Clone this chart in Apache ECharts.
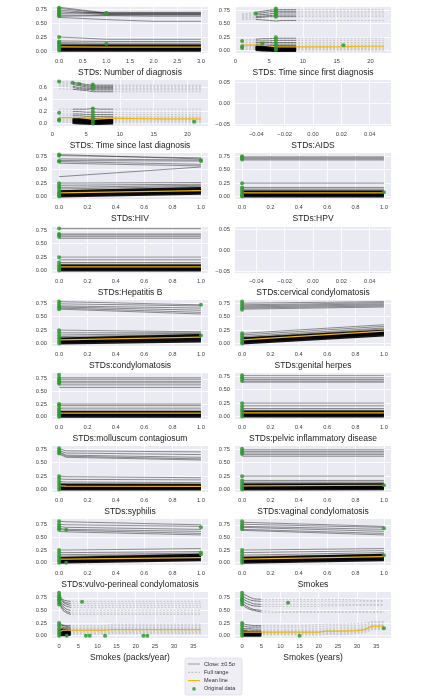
<!DOCTYPE html>
<html>
<head>
<meta charset="utf-8">
<script src="https://cdn.jsdelivr.net/npm/echarts@6/dist/echarts.min.js"></script>
<style>
  html, body { margin: 0; padding: 0; background: #fff; }
  #chart { width: 428px; height: 698px; }
</style>
</head>
<body>
<div id="chart"></div>
<script>
// panel titles (x labels), row by row
const featureNames = [
  'STDs: Number of diagnosis', 'STDs: Time since first diagnosis',
  'STDs: Time since last diagnosis', 'STDs:AIDS',
  'STDs:HIV', 'STDs:HPV',
  'STDs:Hepatitis B', 'STDs:cervical condylomatosis',
  'STDs:condylomatosis', 'STDs:genital herpes',
  'STDs:molluscum contagiosum', 'STDs:pelvic inflammatory disease',
  'STDs:syphilis', 'STDs:vaginal condylomatosis',
  'STDs:vulvo-perineal condylomatosis', 'Smokes',
  'Smokes (packs/year)', 'Smokes (years)'
]

const binaryX = [0, 1]

// STDs: Number of diagnosis
const diagX = [0, 1, 2, 3]
const diagUpper = [
  [0.78, 0.68, 0.68, 0.68], [0.76, 0.67, 0.67, 0.67], [0.73, 0.66, 0.66, 0.66],
  [0.70, 0.65, 0.65, 0.65], [0.67, 0.69, 0.69, 0.69], [0.64, 0.64, 0.64, 0.64],
  [0.62, 0.63, 0.62, 0.62], [0.60, 0.56, 0.53, 0.53]
]
const diagLower = [
  [0.25, 0.21, 0.21, 0.21], [0.18, 0.17, 0.17, 0.17], [0.15, 0.14, 0.14, 0.14],
  [0.13, 0.12, 0.12, 0.12], [0.11, 0.10, 0.10, 0.10]
]
const diagBand = [[0.09, 0.09, 0.09, 0.09], [0.065, 0.065, 0.065, 0.065], [0.04, 0.04, 0.04, 0.04], [0.015, 0.015, 0.015, 0.015]]
const diagMean = [0.075, 0.07, 0.07, 0.07]
const diagDots = [[0, 0.77], [0, 0.75], [0, 0.73], [0, 0.70], [0, 0.68], [0, 0.66], [0, 0.64], [0, 0.62],
  [0, 0.25], [0, 0.17], [0, 0.15], [0, 0.13], [0, 0.10], [0, 0.07], [0, 0.04], [0, 0.01],
  [1, 0.68], [1, 0.67], [1, 0.66], [1, 0.13]]

// STDs: Time since first diagnosis
const firstX = [1, 3, 4, 5, 6, 7, 9, 12, 16, 19, 22]
const firstUpper = [
  [0.68, 0.71, 0.73, 0.75, 0.76, 0.76, 0.76, 0.76, 0.76, 0.76, 0.76],
  [0.66, 0.69, 0.70, 0.72, 0.73, 0.73, 0.73, 0.73, 0.73, 0.73, 0.73],
  [0.64, 0.66, 0.67, 0.68, 0.70, 0.70, 0.70, 0.70, 0.70, 0.70, 0.70],
  [0.62, 0.63, 0.64, 0.65, 0.66, 0.66, 0.66, 0.66, 0.66, 0.66, 0.66],
  [0.60, 0.61, 0.62, 0.63, 0.63, 0.63, 0.63, 0.63, 0.63, 0.63, 0.63],
  [0.58, 0.58, 0.57, 0.56, 0.55, 0.56, 0.56, 0.56, 0.56, 0.56, 0.56]
]
const firstLower = [
  [0.20, 0.21, 0.22, 0.22, 0.23, 0.23, 0.23, 0.23, 0.23, 0.23, 0.23],
  [0.18, 0.18, 0.18, 0.18, 0.19, 0.19, 0.19, 0.19, 0.19, 0.19, 0.19],
  [0.15, 0.15, 0.15, 0.15, 0.15, 0.15, 0.15, 0.15, 0.15, 0.15, 0.15],
  [0.12, 0.12, 0.12, 0.12, 0.12, 0.12, 0.12, 0.12, 0.12, 0.12, 0.12],
  [0.10, 0.10, 0.10, 0.09, 0.09, 0.09, 0.09, 0.09, 0.09, 0.09, 0.09]
]
const firstBand = [
  [0.08, 0.08, 0.07, 0.06, 0.06, 0.06, 0.06, 0.06, 0.06, 0.06, 0.06],
  [0.06, 0.06, 0.05, 0.04, 0.04, 0.04, 0.04, 0.04, 0.04, 0.04, 0.04],
  [0.04, 0.04, 0.03, 0.02, 0.02, 0.02, 0.02, 0.02, 0.02, 0.02, 0.02],
  [0.02, 0.02, 0.01, 0.005, 0.0, 0.0, 0.0, 0.0, 0.0, 0.0, 0.0]
]
const firstMean = [0.10, 0.10, 0.10, 0.085, 0.07, 0.07, 0.07, 0.07, 0.075, 0.08, 0.08]
const firstDots = [[1, 0.18], [1, 0.08], [1, 0.05], [3, 0.69], [4, 0.13],
  [6, 0.78], [6, 0.75], [6, 0.72], [6, 0.69], [6, 0.66], [6, 0.63],
  [6, 0.25], [6, 0.20], [6, 0.15], [6, 0.10], [6, 0.05], [6, 0.01], [16, 0.10]]

// STDs: Time since last diagnosis
const lastX = [1, 3, 4, 5, 6, 7, 9, 12, 16, 19, 22]
const lastUpper = [
  [0.70, 0.69, 0.67, 0.65, 0.64, 0.64, 0.64, 0.64, 0.64, 0.64, 0.64],
  [0.68, 0.67, 0.65, 0.63, 0.62, 0.62, 0.62, 0.62, 0.62, 0.62, 0.62],
  [0.66, 0.65, 0.63, 0.61, 0.60, 0.60, 0.60, 0.60, 0.60, 0.60, 0.60],
  [0.64, 0.62, 0.60, 0.59, 0.58, 0.58, 0.58, 0.58, 0.58, 0.58, 0.58],
  [0.62, 0.60, 0.58, 0.57, 0.56, 0.56, 0.56, 0.56, 0.56, 0.56, 0.56],
  [0.58, 0.57, 0.56, 0.55, 0.53, 0.53, 0.53, 0.53, 0.53, 0.53, 0.53]
]
const lastLower = [
  [0.24, 0.24, 0.24, 0.24, 0.25, 0.24, 0.24, 0.24, 0.24, 0.24, 0.24],
  [0.20, 0.20, 0.20, 0.19, 0.19, 0.19, 0.19, 0.19, 0.19, 0.19, 0.19],
  [0.16, 0.16, 0.16, 0.15, 0.15, 0.15, 0.15, 0.15, 0.15, 0.15, 0.15],
  [0.13, 0.13, 0.13, 0.12, 0.12, 0.12, 0.12, 0.12, 0.12, 0.12, 0.12],
  [0.10, 0.10, 0.10, 0.09, 0.09, 0.09, 0.10, 0.10, 0.10, 0.10, 0.10]
]
const lastBand = [
  [0.08, 0.08, 0.07, 0.06, 0.06, 0.06, 0.07, 0.07, 0.07, 0.07, 0.07],
  [0.06, 0.06, 0.05, 0.04, 0.04, 0.04, 0.05, 0.05, 0.05, 0.05, 0.05],
  [0.04, 0.04, 0.03, 0.02, 0.02, 0.02, 0.03, 0.03, 0.03, 0.03, 0.03],
  [0.02, 0.02, 0.01, 0.005, 0.0, 0.0, 0.01, 0.01, 0.01, 0.01, 0.01]
]
const lastMean = [0.10, 0.10, 0.10, 0.09, 0.07, 0.08, 0.09, 0.085, 0.08, 0.08, 0.08]
const lastDots = [[1, 0.70], [1, 0.18], [1, 0.07], [1, 0.05], [3, 0.68], [4, 0.66],
  [6, 0.65], [6, 0.62], [6, 0.58], [6, 0.25], [6, 0.20], [6, 0.15], [6, 0.10], [6, 0.05], [6, 0.0], [21, 0.03]]

// STDs:HIV
const hivUpper = [[0.78, 0.70], [0.76, 0.72], [0.70, 0.68], [0.67, 0.66], [0.65, 0.60], [0.62, 0.57], [0.37, 0.55]]
const hivLower = [[0.25, 0.26], [0.21, 0.23], [0.17, 0.21], [0.14, 0.19], [0.11, 0.17]]
const hivBand = [[0.09, 0.15], [0.06, 0.12], [0.035, 0.09], [0.01, 0.06]]
const hivMean = [0.07, 0.11]
const hivDots = [[0, 0.78], [0, 0.76], [0, 0.66], [0, 0.65], [0, 0.25], [0, 0.20], [0, 0.17], [0, 0.12],
  [0, 0.08], [0, 0.05], [0, 0.02], [0, 0.0], [1, 0.68], [1, 0.66]]

// STDs:HPV
const hpvUpper = [[0.74, 0.74], [0.72, 0.72], [0.70, 0.70], [0.68, 0.68]]
const hpvLower = [[0.25, 0.25], [0.17, 0.17], [0.14, 0.14], [0.12, 0.12], [0.10, 0.10]]
const hpvBand = [[0.085, 0.085], [0.06, 0.06], [0.035, 0.035], [0.01, 0.01]]
const hpvMean = [0.07, 0.07]
const hpvDots = [[0, 0.75], [0, 0.73], [0, 0.71], [0, 0.69], [0, 0.25], [0, 0.17], [0, 0.13], [0, 0.09],
  [0, 0.05], [0, 0.02], [0, 0.0], [1, 0.08]]

// STDs:Hepatitis B
const hepbUpper = [[0.78, 0.78], [0.68, 0.68], [0.66, 0.66], [0.63, 0.63], [0.60, 0.60]]
const hepbLower = [[0.25, 0.25], [0.20, 0.20], [0.15, 0.15], [0.12, 0.12], [0.10, 0.10]]
const hepbBand = [[0.085, 0.085], [0.06, 0.06], [0.035, 0.035], [0.01, 0.01]]
const hepbMean = [0.07, 0.07]
const hepbDots = [[0, 0.78], [0, 0.68], [0, 0.66], [0, 0.63], [0, 0.25], [0, 0.15], [0, 0.10], [0, 0.06], [0, 0.03], [0, 0.0]]

// STDs:condylomatosis
const condyUpper = [[0.78, 0.72], [0.74, 0.70], [0.70, 0.66], [0.68, 0.62], [0.66, 0.58], [0.64, 0.55]]
const condyLower = [[0.25, 0.22], [0.20, 0.20], [0.16, 0.19], [0.13, 0.17], [0.10, 0.16]]
const condyBand = [[0.085, 0.15], [0.06, 0.12], [0.035, 0.09], [0.01, 0.05]]
const condyMean = [0.07, 0.12]
const condyDots = [[0, 0.78], [0, 0.74], [0, 0.70], [0, 0.67], [0, 0.64], [0, 0.25], [0, 0.20], [0, 0.15],
  [0, 0.10], [0, 0.05], [0, 0.0], [1, 0.72], [1, 0.15]]

// STDs:genital herpes
const herpesUpper = [[0.75, 0.78], [0.72, 0.76], [0.70, 0.74], [0.68, 0.72], [0.66, 0.70], [0.64, 0.68]]
const herpesLower = [[0.19, 0.35], [0.16, 0.32], [0.13, 0.29], [0.11, 0.27], [0.10, 0.25]]
const herpesBand = [[0.085, 0.23], [0.06, 0.21], [0.035, 0.19], [0.01, 0.16]]
const herpesMean = [0.07, 0.23]
const herpesDots = [[0, 0.78], [0, 0.74], [0, 0.70], [0, 0.66], [0, 0.63], [0, 0.19], [0, 0.15], [0, 0.11],
  [0, 0.07], [0, 0.03], [0, 0.0]]

// STDs:molluscum contagiosum
const mollusUpper = [[0.77, 0.77], [0.74, 0.74], [0.70, 0.70], [0.67, 0.67], [0.63, 0.63], [0.58, 0.58]]
const mollusLower = [[0.25, 0.25], [0.22, 0.22], [0.17, 0.17], [0.13, 0.13], [0.10, 0.10]]
const mollusBand = [[0.085, 0.085], [0.06, 0.06], [0.035, 0.035], [0.01, 0.01]]
const mollusMean = [0.07, 0.07]
const mollusDots = [[0, 0.83], [0, 0.77], [0, 0.74], [0, 0.71], [0, 0.68], [0, 0.65], [0, 0.25], [0, 0.22],
  [0, 0.17], [0, 0.13], [0, 0.09], [0, 0.05], [0, 0.02], [0, 0.0]]

// STDs:pelvic inflammatory disease
const pelvicUpper = [[0.76, 0.76], [0.72, 0.72], [0.69, 0.69], [0.66, 0.66], [0.64, 0.64]]
const pelvicLower = [[0.25, 0.25], [0.20, 0.20], [0.15, 0.15], [0.12, 0.12], [0.10, 0.10]]
const pelvicBand = [[0.085, 0.085], [0.06, 0.06], [0.035, 0.035], [0.01, 0.01]]
const pelvicMean = [0.07, 0.07]
const pelvicDots = [[0, 0.77], [0, 0.73], [0, 0.70], [0, 0.66], [0, 0.25], [0, 0.19], [0, 0.14], [0, 0.10], [0, 0.05], [0, 0.0]]

// STDs:syphilis
const syphX = [0, 0.05, 1]
const syphUpper = [[0.76, 0.72, 0.70], [0.72, 0.68, 0.65], [0.70, 0.64, 0.60], [0.68, 0.62, 0.57], [0.66, 0.60, 0.55]]
const syphLower = [[0.25, 0.24, 0.22], [0.20, 0.19, 0.18], [0.15, 0.14, 0.13], [0.12, 0.11, 0.10], [0.10, 0.09, 0.09]]
const syphBand = [[0.085, 0.08, 0.08], [0.06, 0.055, 0.055], [0.035, 0.03, 0.03], [0.01, 0.01, 0.01]]
const syphMean = [0.07, 0.065, 0.06]
const syphDots = [[0, 0.77], [0, 0.73], [0, 0.70], [0, 0.67], [0, 0.25], [0, 0.20], [0, 0.15], [0, 0.10], [0, 0.05], [0, 0.0]]

// STDs:vaginal condylomatosis
const vaginUpper = [[0.74, 0.74], [0.71, 0.71], [0.68, 0.68], [0.65, 0.65], [0.62, 0.62]]
const vaginLower = [[0.25, 0.25], [0.17, 0.17], [0.14, 0.14], [0.12, 0.12], [0.10, 0.10]]
const vaginBand = [[0.085, 0.09], [0.06, 0.065], [0.035, 0.04], [0.01, 0.015]]
const vaginMean = [0.07, 0.08]
const vaginDots = [[0, 0.76], [0, 0.72], [0, 0.69], [0, 0.66], [0, 0.25], [0, 0.17], [0, 0.12], [0, 0.08],
  [0, 0.04], [0, 0.0], [1, 0.08]]

// STDs:vulvo-perineal condylomatosis
const vulvoX = [0, 0.05, 1]
const vulvoUpper = [[0.82, 0.81, 0.75], [0.76, 0.75, 0.72], [0.72, 0.70, 0.66], [0.68, 0.66, 0.62], [0.66, 0.64, 0.58], [0.62, 0.61, 0.55]]
const vulvoLower = [[0.25, 0.25, 0.28], [0.20, 0.20, 0.22], [0.16, 0.16, 0.19], [0.13, 0.13, 0.17], [0.10, 0.10, 0.16]]
const vulvoBand = [[0.085, 0.09, 0.15], [0.06, 0.065, 0.12], [0.035, 0.04, 0.09], [0.01, 0.015, 0.06]]
const vulvoMean = [0.07, 0.072, 0.10]
const vulvoDots = [[0, 0.82], [0, 0.76], [0, 0.72], [0, 0.68], [0, 0.65], [0, 0.25], [0, 0.20], [0, 0.15],
  [0, 0.10], [0, 0.05], [0, 0.0], [0.05, 0.65], [0.05, 0.0], [1, 0.70], [1, 0.20], [1, 0.17]]

// Smokes
const smokesUpper = [[0.80, 0.72], [0.76, 0.70], [0.72, 0.66], [0.70, 0.62], [0.66, 0.58], [0.64, 0.55]]
const smokesLower = [[0.25, 0.28], [0.20, 0.24], [0.15, 0.20], [0.12, 0.17], [0.10, 0.16]]
const smokesBand = [[0.085, 0.15], [0.06, 0.12], [0.035, 0.09], [0.01, 0.06]]
const smokesMean = [0.07, 0.12]
const smokesDots = [[0, 0.82], [0, 0.77], [0, 0.73], [0, 0.70], [0, 0.66], [0, 0.25], [0, 0.20], [0, 0.15],
  [0, 0.10], [0, 0.05], [0, 0.0], [1, 0.68], [1, 0.15]]

// Smokes (packs/year)
const packsX = [0, 0.5, 1, 2, 3, 5, 8, 12, 14, 20, 25, 30, 37]
const packsUpper = [
  [0.85, 0.76, 0.71, 0.69, 0.68, 0.68, 0.68, 0.68, 0.68, 0.68, 0.68, 0.68, 0.68],
  [0.80, 0.73, 0.68, 0.65, 0.64, 0.64, 0.64, 0.64, 0.64, 0.64, 0.64, 0.64, 0.64],
  [0.76, 0.70, 0.66, 0.62, 0.60, 0.60, 0.60, 0.60, 0.60, 0.60, 0.60, 0.60, 0.60],
  [0.72, 0.66, 0.62, 0.58, 0.56, 0.56, 0.56, 0.56, 0.56, 0.56, 0.56, 0.56, 0.56],
  [0.70, 0.64, 0.58, 0.52, 0.50, 0.50, 0.50, 0.50, 0.50, 0.50, 0.50, 0.50, 0.50],
  [0.66, 0.60, 0.54, 0.48, 0.45, 0.45, 0.45, 0.45, 0.45, 0.45, 0.45, 0.45, 0.45],
  [0.62, 0.57, 0.50, 0.45, 0.42, 0.42, 0.42, 0.42, 0.42, 0.42, 0.42, 0.42, 0.42]
]
const packsLower = [
  [0.25, 0.23, 0.21, 0.20, 0.20, 0.20, 0.20, 0.20, 0.23, 0.23, 0.23, 0.23, 0.23],
  [0.20, 0.21, 0.20, 0.18, 0.17, 0.17, 0.17, 0.17, 0.20, 0.20, 0.20, 0.20, 0.20],
  [0.15, 0.18, 0.17, 0.16, 0.15, 0.15, 0.15, 0.15, 0.17, 0.17, 0.17, 0.17, 0.17],
  [0.12, 0.15, 0.15, 0.14, 0.13, 0.13, 0.13, 0.13, 0.15, 0.15, 0.15, 0.15, 0.15],
  [0.10, 0.13, 0.13, 0.12, 0.11, 0.11, 0.11, 0.11, 0.13, 0.13, 0.13, 0.13, 0.13]
]
const packsBand = [
  [0.08, 0.11, 0.11, 0.10, 0.09, 0.09, 0.09, 0.09, 0.10, 0.10, 0.10, 0.10, 0.10],
  [0.06, 0.08, 0.08, 0.07, 0.07, 0.07, 0.07, 0.07, 0.08, 0.08, 0.08, 0.08, 0.08],
  [0.035, 0.05, 0.05, 0.05, 0.05, 0.05, 0.05, 0.05, 0.06, 0.06, 0.06, 0.06, 0.06],
  [0.01, 0.02, 0.02, 0.02, 0.03, 0.03, 0.03, 0.03, 0.04, 0.04, 0.04, 0.04, 0.04]
]
const packsMean = [0.07, 0.10, 0.11, 0.11, 0.11, 0.11, 0.11, 0.11, 0.12, 0.12, 0.12, 0.12, 0.12]
const packsDots = [[0, 0.85], [0, 0.80], [0, 0.76], [0, 0.72], [0, 0.70], [0, 0.66], [0, 0.62],
  [0, 0.25], [0, 0.20], [0, 0.15], [0, 0.10], [0, 0.05], [0, 0.0], [6, 0.67],
  [2, 0.0], [7, 0.0], [8, 0.0], [12, 0.0], [22, 0.0], [23, 0.0]]

// Smokes (years)
const yearsX = [0, 1, 2, 3, 5, 8, 10, 12, 15, 20, 22, 25, 30, 32, 34, 37]
const yearsUpper = [
  [0.85, 0.80, 0.76, 0.73, 0.72, 0.72, 0.72, 0.72, 0.72, 0.72, 0.72, 0.72, 0.71, 0.70, 0.70, 0.70],
  [0.80, 0.74, 0.71, 0.69, 0.68, 0.68, 0.68, 0.68, 0.68, 0.68, 0.68, 0.68, 0.68, 0.68, 0.68, 0.68],
  [0.75, 0.69, 0.66, 0.63, 0.62, 0.62, 0.62, 0.62, 0.62, 0.62, 0.62, 0.62, 0.62, 0.62, 0.62, 0.62],
  [0.70, 0.64, 0.61, 0.59, 0.58, 0.58, 0.58, 0.58, 0.58, 0.58, 0.59, 0.59, 0.60, 0.60, 0.60, 0.60],
  [0.66, 0.59, 0.55, 0.52, 0.50, 0.49, 0.48, 0.48, 0.48, 0.48, 0.48, 0.48, 0.48, 0.48, 0.48, 0.48],
  [0.62, 0.56, 0.52, 0.50, 0.47, 0.46, 0.46, 0.46, 0.46, 0.46, 0.46, 0.46, 0.46, 0.46, 0.46, 0.46]
]
const yearsLower = [
  [0.25, 0.22, 0.21, 0.20, 0.20, 0.20, 0.20, 0.20, 0.20, 0.22, 0.23, 0.23, 0.24, 0.25, 0.28, 0.28],
  [0.20, 0.18, 0.17, 0.17, 0.17, 0.17, 0.17, 0.17, 0.17, 0.18, 0.19, 0.20, 0.20, 0.22, 0.26, 0.26],
  [0.15, 0.14, 0.14, 0.13, 0.13, 0.13, 0.13, 0.13, 0.13, 0.14, 0.15, 0.16, 0.17, 0.19, 0.23, 0.23],
  [0.12, 0.11, 0.11, 0.10, 0.10, 0.10, 0.10, 0.10, 0.10, 0.11, 0.12, 0.13, 0.14, 0.16, 0.21, 0.21],
  [0.10, 0.09, 0.08, 0.08, 0.08, 0.08, 0.08, 0.08, 0.08, 0.09, 0.10, 0.10, 0.12, 0.14, 0.19, 0.19]
]
const yearsBand = [
  [0.08, 0.07, 0.06, 0.06, 0.06, 0.06, 0.06, 0.06, 0.06, 0.07, 0.08, 0.08, 0.10, 0.12, 0.17, 0.17],
  [0.06, 0.05, 0.045, 0.045, 0.045, 0.045, 0.045, 0.045, 0.045, 0.05, 0.06, 0.06, 0.08, 0.10, 0.15, 0.15],
  [0.035, 0.03, 0.025, 0.025, 0.025, 0.025, 0.025, 0.025, 0.025, 0.03, 0.04, 0.04, 0.06, 0.08, 0.14, 0.14],
  [0.01, 0.01, 0.01, 0.01, 0.01, 0.01, 0.01, 0.01, 0.01, 0.01, 0.02, 0.02, 0.04, 0.06, 0.12, 0.12]
]
const yearsMean = [0.07, 0.07, 0.07, 0.07, 0.07, 0.07, 0.07, 0.07, 0.07, 0.07, 0.09, 0.09, 0.10, 0.12, 0.19, 0.19]
const yearsDots = [[0, 0.85], [0, 0.80], [0, 0.75], [0, 0.72], [0, 0.70], [0, 0.66], [0, 0.62],
  [0, 0.25], [0, 0.20], [0, 0.15], [0, 0.10], [0, 0.05], [0, 0.0], [12, 0.65], [15, 0.0], [37, 0.15]]

// axis tick values
const probTicks = [0, 0.25, 0.5, 0.75]
const lastTicks = [0, 0.2, 0.4, 0.6]
const binaryTicks = [0, 0.2, 0.4, 0.6, 0.8, 1]
const diagTicks = [0, 0.5, 1, 1.5, 2, 2.5, 3]
const timeTicks = [0, 5, 10, 15, 20]
const smokeTicks = [0, 5, 10, 15, 20, 25, 30, 35]
const emptyXTicks = [-0.04, -0.02, 0, 0.02, 0.04]
const emptyYTicks = [-0.05, 0, 0.05]

const font = 'Liberation Sans, Arial, sans-serif'
const yStd = [-0.045, 0.81]
const yTall = [-0.045, 0.865]
const binRange = [-0.05, 1.05]
const smokeRange = [-1.85, 38.85]

function bin (up, lo, band, mean, dots, yr) {
  return { x: binaryX, up, lo, band, mean, dots, xr: binRange, xt: binaryTicks, xd: 1, yr: yr || yStd, yt: probTicks, yd: 2 }
}
const emptyPanel = { empty: true, xr: [-0.055, 0.055], xt: emptyXTicks, xd: 2, yr: [-0.055, 0.055], yt: emptyYTicks, yd: 2 }

const panels = [
  { x: diagX, up: diagUpper, lo: diagLower, band: diagBand, mean: diagMean, dots: diagDots, xr: [-0.15, 3.15], xt: diagTicks, xd: 1, yr: [-0.035, 0.785], yt: probTicks, yd: 2 },
  { x: firstX, up: firstUpper, lo: firstLower, band: firstBand, mean: firstMean, dots: firstDots, xr: [-0.05, 23.05], xt: timeTicks, xd: 0, yr: yStd, yt: probTicks, yd: 2, close: [3, 9] },
  { x: lastX, up: lastUpper, lo: lastLower, band: lastBand, mean: lastMean, dots: lastDots, xr: [-0.05, 23.05], xt: timeTicks, xd: 0, yr: [-0.04, 0.725], yt: lastTicks, yd: 1, close: [3, 9] },
  emptyPanel,
  bin(hivUpper, hivLower, hivBand, hivMean, hivDots),
  bin(hpvUpper, hpvLower, hpvBand, hpvMean, hpvDots),
  bin(hepbUpper, hepbLower, hepbBand, hepbMean, hepbDots),
  emptyPanel,
  bin(condyUpper, condyLower, condyBand, condyMean, condyDots),
  bin(herpesUpper, herpesLower, herpesBand, herpesMean, herpesDots),
  bin(mollusUpper, mollusLower, mollusBand, mollusMean, mollusDots, yTall),
  bin(pelvicUpper, pelvicLower, pelvicBand, pelvicMean, pelvicDots),
  Object.assign(bin(syphUpper, syphLower, syphBand, syphMean, syphDots), { x: syphX }),
  bin(vaginUpper, vaginLower, vaginBand, vaginMean, vaginDots),
  Object.assign(bin(vulvoUpper, vulvoLower, vulvoBand, vulvoMean, vulvoDots, yTall), { x: vulvoX }),
  bin(smokesUpper, smokesLower, smokesBand, smokesMean, smokesDots, yTall),
  { x: packsX, up: packsUpper, lo: packsLower, band: packsBand, mean: packsMean, dots: packsDots, xr: smokeRange, xt: smokeTicks, xd: 0, yr: yTall, yt: probTicks, yd: 2, close: [0, 3] },
  { x: yearsX, up: yearsUpper, lo: yearsLower, band: yearsBand, mean: yearsMean, dots: yearsDots, xr: smokeRange, xt: smokeTicks, xd: 0, yr: yTall, yt: probTicks, yd: 2, close: [0, 5] }
]

const rowTops = [7, 80, 153, 227, 300, 373, 446, 519, 592]
const colLefts = [52, 235]
const plotW = 156
const plotH = 46

function fmt (d) {
  return v => (v < 0 ? '\u2212' : '') + Math.abs(v).toFixed(d)
}

function coordsOf (xs, ys, lo, hi) {
  const out = []
  xs.forEach((x, k) => {
    if (x >= lo - 1e-9 && x <= hi + 1e-9) out.push([x, ys[k]])
  })
  return out
}

function linesSeries (i, name, xs, curves, lo, hi, lineStyle, z) {
  return {
    type: 'lines',
    name,
    coordinateSystem: 'cartesian2d',
    xAxisIndex: i,
    yAxisIndex: i,
    polyline: true,
    silent: true,
    z,
    lineStyle,
    data: curves.map(c => ({ coords: coordsOf(xs, c, lo, hi) }))
  }
}

const chartInstance = echarts.init(document.getElementById('chart'))
const grids = []
const xAxes = []
const yAxes = []
const series = []

panels.forEach((p, i) => {
  const row = Math.floor(i / 2)
  const col = i % 2
  grids.push({
    left: colLefts[col], top: rowTops[row], width: plotW, height: plotH,
    show: true, backgroundColor: '#EAEAF2', borderWidth: 0
  })
  xAxes.push({
    gridIndex: i, type: 'value', min: p.xr[0], max: p.xr[1],
    name: featureNames[i], nameLocation: 'middle', nameGap: 15,
    nameTextStyle: { fontSize: 8.5, color: '#222', fontFamily: font },
    axisLine: { show: false },
    axisTick: { show: false, customValues: p.xt },
    axisLabel: { customValues: p.xt, fontSize: 5.8, color: '#444', margin: 5, fontFamily: font, formatter: fmt(p.xd) },
    splitLine: { show: true, lineStyle: { color: '#fff', width: 0.8 } }
  })
  yAxes.push({
    gridIndex: i, type: 'value', min: p.yr[0], max: p.yr[1],
    axisLine: { show: false },
    axisTick: { show: false, customValues: p.yt },
    axisLabel: { customValues: p.yt, fontSize: 5.8, color: '#444', margin: 5, fontFamily: font, formatter: fmt(p.yd) },
    splitLine: { show: true, lineStyle: { color: '#fff', width: 0.8 } }
  })
  if (p.empty) return

  const xs = p.x
  const curves = p.up.concat(p.lo)
  const lo = p.close ? p.close[0] : -Infinity
  const hi = p.close ? p.close[1] : Infinity
  if (p.close) {
    // full range, dashed
    series.push(linesSeries(i, 'Full range', xs, curves.concat(p.band), -Infinity, Infinity,
      { color: '#8a8a8a', opacity: 0.45, width: 0.8, type: [2, 1.5] }, 1))
  }
  // close range, solid
  series.push(linesSeries(i, 'Close', xs, curves, lo, hi, { color: '#000', opacity: 0.42, width: 1 }, 2))
  series.push(linesSeries(i, 'Close', xs, p.band, lo, hi, { color: '#000', opacity: 0.9, width: 3 }, 2))
  series.push({
    type: 'line', name: 'Mean line', xAxisIndex: i, yAxisIndex: i,
    data: xs.map((x, k) => [x, p.mean[k]]),
    showSymbol: false, silent: true, z: 3,
    lineStyle: { color: '#F2B705', width: 1.2 }
  })
  series.push({
    type: 'scatter', name: 'Original data', xAxisIndex: i, yAxisIndex: i,
    data: p.dots, symbolSize: 4, silent: true, z: 4,
    itemStyle: { color: '#2E9A2E', opacity: 0.85 }
  })
})

// legend box under the panels
const legendItems = [
  { label: 'Close: \u00b10.5\u03c3', kind: 'close' },
  { label: 'Full range', kind: 'full' },
  { label: 'Mean line', kind: 'mean' },
  { label: 'Original data', kind: 'dot' }
]
const graphic = [{
  type: 'rect', shape: { x: 185, y: 658, width: 57, height: 37, r: 2 },
  style: { fill: '#EEEEF4', stroke: '#d6d6de', lineWidth: 0.6 }, z: 10
}]
legendItems.forEach((it, k) => {
  const y = 664 + k * 8.3
  if (it.kind === 'dot') {
    graphic.push({ type: 'circle', shape: { cx: 194, cy: y, r: 1.8 }, style: { fill: '#2E9A2E', opacity: 0.85 }, z: 11 })
  } else {
    const stroke = it.kind === 'mean' ? '#F2B705' : (it.kind === 'full' ? '#aaa' : '#888')
    graphic.push({
      type: 'line', shape: { x1: 188, y1: y, x2: 200, y2: y },
      style: { stroke, lineWidth: it.kind === 'mean' ? 1.1 : 0.8, lineDash: it.kind === 'full' ? [2, 1.5] : null }, z: 11
    })
  }
  graphic.push({
    type: 'text', x: 204, y, z: 11,
    style: { text: it.label, fontSize: 5.5, fill: '#333', fontFamily: font, verticalAlign: 'middle' }
  })
})

chartInstance.setOption({
  animation: false,
  backgroundColor: '#fff',
  grid: grids,
  xAxis: xAxes,
  yAxis: yAxes,
  series,
  graphic
})
</script>
</body>
</html>
